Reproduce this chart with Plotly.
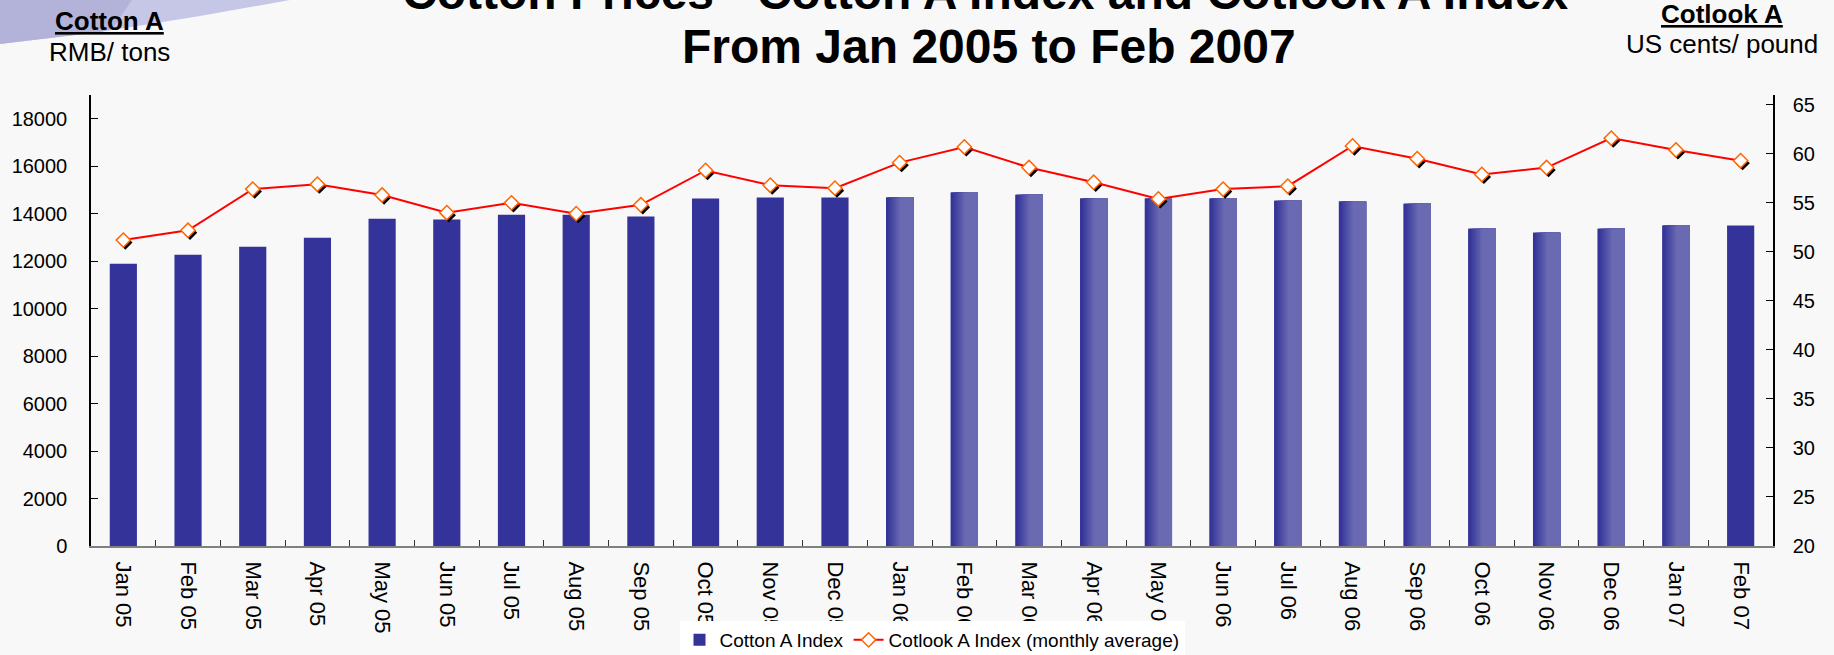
import plotly.graph_objects as go

# ---------------- data ----------------
months = ["Jan 05", "Feb 05", "Mar 05", "Apr 05", "May 05", "Jun 05", "Jul 05", "Aug 05",
          "Sep 05", "Oct 05", "Nov 05", "Dec 05", "Jan 06", "Feb 06", "Mar 06", "Apr 06",
          "May 06", "Jun 06", "Jul 06", "Aug 06", "Sep 06", "Oct 06", "Nov 06", "Dec 06",
          "Jan 07", "Feb 07"]
cotton_a_index = [11890, 12270, 12610, 12990, 13790, 13750, 13960, 13960, 13880, 14640,
                  14680, 14680, 14680, 14890, 14800, 14640, 14640, 14640, 14550, 14510,
                  14420, 13370, 13200, 13370, 13500, 13500]
cotlook_a_index = [51.2, 52.2, 56.4, 56.9, 55.8, 54.0, 55.0, 53.9, 54.8, 58.3, 56.8, 56.5,
                   59.1, 60.7, 58.6, 57.1, 55.4, 56.4, 56.7, 60.8, 59.5, 57.9, 58.6, 61.6,
                   60.4, 59.3]
# bars drawn with a shaded (gradient) fill in the original
shaded_months = months[12:25]

# ---------------- styling ----------------
FONT = "Liberation Sans, Arial, sans-serif"
W, H = 1834, 655
L, R, T, B = 91, 61, 95, 109
PW, PH = W - L - R, H - T - B
DARK = (51, 51, 153)
LIGHT = (106, 106, 178)
BAR_W = 0.42


def px(p):
    return (p - L) / PW


def py(p):
    return (H - B - p) / PH


def rgb(c):
    return "rgb(%d,%d,%d)" % c


fig = go.Figure()

# base bars
fig.add_trace(go.Bar(
    x=months, y=cotton_a_index, name="Cotton A Index", width=BAR_W,
    marker=dict(color=rgb(DARK), line=dict(width=0)), xaxis="x", yaxis="y",
))

# gradient slices for shaded bars
shade_idx = [months.index(m) for m in shaded_months]
N = 14
for k in range(N):
    off = -BAR_W / 2 + k * BAR_W / N
    t = min(1.0, k / (N * 0.5))
    col = tuple(DARK[i] + (LIGHT[i] - DARK[i]) * t for i in range(3))
    fig.add_trace(go.Bar(
        x=shaded_months, y=[cotton_a_index[i] for i in shade_idx],
        width=BAR_W / 2 - off, offset=off, showlegend=False, hoverinfo="skip",
        marker=dict(color=rgb(col), line=dict(width=0)), xaxis="x", yaxis="y",
    ))

# marker shadow (on shifted overlay axes)
fig.add_trace(go.Scatter(
    x=months, y=cotlook_a_index, mode="markers", showlegend=False, hoverinfo="skip",
    marker=dict(symbol="diamond", size=11, color="black", line=dict(width=0)),
    xaxis="x2", yaxis="y3",
))

# Cotlook line
fig.add_trace(go.Scatter(
    x=months, y=cotlook_a_index, mode="lines+markers",
    name="Cotlook A Index (monthly average)",
    line=dict(color="#ff0000", width=2),
    marker=dict(symbol="diamond", size=11, color="white", line=dict(color="#ff6600", width=1.5)),
    xaxis="x3", yaxis="y2",
))

xr = [-0.5, len(months) - 0.5]
dx = 2.0 / (PW / len(months))
y2r = [20, 66]
dy = 2.5 / (PH / (y2r[1] - y2r[0]))

axfont = dict(family=FONT, size=20, color="black")
xfont = dict(family=FONT, size=22, color="black")
fig.update_layout(
    width=W, height=H,
    margin=dict(l=L, r=R, t=T, b=B, autoexpand=False),
    paper_bgcolor="#f8f8f8", plot_bgcolor="#f8f8f8",
    barmode="overlay",
    font=dict(family=FONT, color="black"),
    showlegend=True,
    legend=dict(orientation="h", x=0.5, xanchor="center", y=py(621), yanchor="top",
                bgcolor="white", font=dict(family=FONT, size=19), tracegroupgap=0,
                itemwidth=30),
    xaxis=dict(type="category", categoryorder="array", categoryarray=months, range=xr,
               tickangle=90, tickfont=xfont, ticks="inside", tickson="boundaries",
               ticklen=6, tickcolor="#333", showgrid=False, zeroline=False,
               showline=True, linecolor="#808080", linewidth=2, ticklabelstandoff=9),
    xaxis2=dict(type="category", categoryorder="array", categoryarray=months,
                range=[xr[0] - dx, xr[1] - dx], overlaying="x", visible=False),
    xaxis3=dict(type="category", categoryorder="array", categoryarray=months,
                range=xr, overlaying="x", visible=False),
    yaxis=dict(range=[0, 19000], tick0=0, dtick=2000, tickformat="d", tickfont=axfont,
               ticks="inside", ticklen=7, tickcolor="black", showgrid=False,
               zeroline=False, showline=True, linecolor="black", linewidth=1.5,
               ticklabelstandoff=18),
    yaxis2=dict(range=y2r, tick0=20, dtick=5, overlaying="y", side="right", anchor="x",
                tickfont=axfont, ticks="inside", ticklen=7, tickcolor="black",
                showgrid=False, zeroline=False, showline=True, linecolor="black",
                linewidth=1.5, ticklabelstandoff=14),
    yaxis3=dict(range=[y2r[0] + dy, y2r[1] + dy], overlaying="y", visible=False),
)

# decorative slide swoosh (top-left)
def path(pts):
    return "M " + " L ".join("%f,%f" % (px(a), py(b)) for a, b in pts) + " Z"

fig.add_shape(type="path", xref="paper", yref="paper", layer="below",
              path=path([(0, 0), (290, 0), (200, 16), (100, 32), (0, 44)]),
              fillcolor="#c6c7e7", line=dict(width=0))
fig.add_shape(type="path", xref="paper", yref="paper", layer="below",
              path=path([(0, 0), (132, 0), (112, 29), (100, 32), (0, 44)]),
              fillcolor="#b3b3da", line=dict(width=0))

# titles and unit labels
ann = [
    ("Cotton Prices · Cotton A Index and Cotlook A Index", 985, 21, 48, True),
    ("From Jan 2005 to Feb 2007", 989, 75, 48, True),
    ("<u>Cotton A</u>", 109, 38, 26, True),
    ("RMB/ tons", 109, 69, 26, False),
    ("<u>Cotlook A</u>", 1722, 31, 26, True),
    ("US cents/ pound", 1722, 61, 26, False),
]
for text, x, ybot, size, bold in ann:
    fig.add_annotation(
        text="<b>%s</b>" % text if bold else text,
        xref="paper", yref="paper", x=px(x), y=py(ybot), xanchor="center", yanchor="bottom",
        showarrow=False, font=dict(family=FONT, size=size, color="black"),
    )

fig.write_html(
    "out.html",
    config={"displayModeBar": False},
    post_script="document.body.style.margin='0';document.body.style.padding='0';"
                "document.body.style.background='#f8f8f8';",
)
